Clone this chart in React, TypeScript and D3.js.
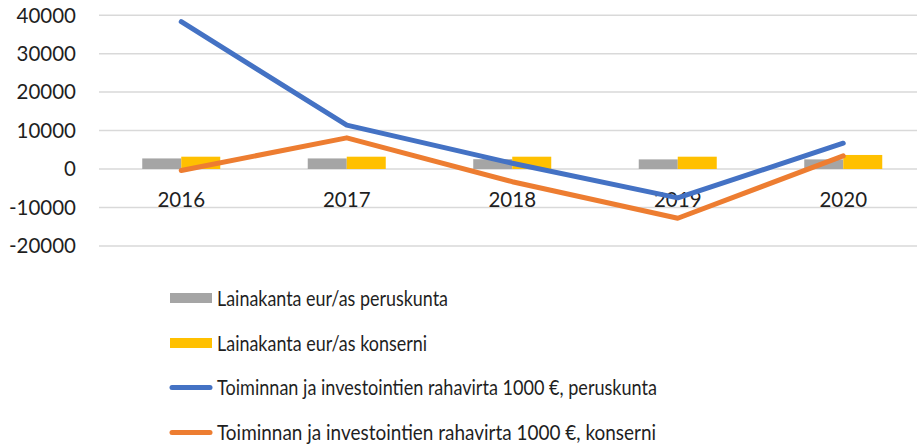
import React from "react";
import * as d3 from "d3";

const categories = ["2016", "2017", "2018", "2019", "2020"];
const lainaPeruskunta = [2750, 2750, 2550, 2500, 2500];
const lainaKonserni = [3200, 3200, 3200, 3200, 3650];
const rahaPeruskunta = [38300, 11400, 1500, -7500, 6700];
const rahaKonserni = [-400, 8100, -3300, -12800, 3400];
const yTicks = [40000, 30000, 20000, 10000, 0, -10000, -20000];
const legendLabels = [
  "Lainakanta eur/as peruskunta",
  "Lainakanta eur/as konserni",
  "Toiminnan ja investointien rahavirta 1000 €, peruskunta",
  "Toiminnan ja investointien rahavirta 1000 €, konserni",
];

const W = 917;
const H = 446;
const FONT = "Lato, 'Open Sans', sans-serif";
const TEXT = "#1f1f1f";
const GRID = "#D9D9D9";
const COLORS = ["#A5A5A5", "#FFC000", "#4472C4", "#ED7D31"];
const legendWidths = [231, 210, 440, 439];

export default function App() {
  const y = d3.scaleLinear().domain([-20000, 40000]).range([245.9, 15.2]);
  const x = d3.scaleBand<string>().domain(categories).range([98.5, 926]);
  const bw = x.bandwidth();
  const barKeys = ["p", "k"];
  const x1 = d3.scaleBand<string>().domain(barKeys).range([0, 78]);
  const cx = (c: string) => (x(c) as number) + bw / 2;
  const barSeries = [lainaPeruskunta, lainaKonserni];
  const lineSeries = [rahaPeruskunta, rahaKonserni];
  const line = d3
    .line<number>()
    .x((_, i) => cx(categories[i]))
    .y((d) => y(d));

  const legendY = [298, 343, 387.5, 432.5];

  return (
    <svg
      width={W}
      height={H}
      style={{ position: "absolute", left: 0, top: 0, background: "#fff" }}
      fontFamily={FONT}
    >
      <rect width={W} height={H} fill="#fff" />
      {yTicks.map((t) => (
        <g key={t}>
          <line x1={99} x2={W} y1={y(t)} y2={y(t)} stroke={GRID} strokeWidth={1.5} />
          <text
            x={76}
            y={y(t)}
            dy="0.36em"
            textAnchor="end"
            fontSize={20.5}
            fill={TEXT}
          >
            {t}
          </text>
        </g>
      ))}
      {barSeries.map((s, si) =>
        s.map((v, i) => {
          const c = categories[i];
          const x0 = cx(c) - 39 + (x1(barKeys[si]) as number);
          return (
            <rect
              key={si + "-" + i}
              x={x0}
              width={x1.bandwidth()}
              y={y(Math.max(0, v))}
              height={Math.abs(y(v) - y(0))}
              fill={COLORS[si]}
            />
          );
        })
      )}
      {categories.map((c) => (
        <text
          key={c}
          x={cx(c)}
          y={207}
          textAnchor="middle"
          fontSize={20.5}
          fill={TEXT}
        >
          {c}
        </text>
      ))}
      {lineSeries.map((s, si) => (
        <path
          key={si}
          d={line(s) || ""}
          fill="none"
          stroke={COLORS[2 + si]}
          strokeWidth={5}
          strokeLinecap="round"
          strokeLinejoin="round"
        />
      ))}
      {legendLabels.map((l, i) => (
        <g key={l}>
          {i < 2 ? (
            <rect x={170} y={legendY[i] - 5} width={42} height={10} fill={COLORS[i]} />
          ) : (
            <line
              x1={172}
              x2={210}
              y1={legendY[i]}
              y2={legendY[i]}
              stroke={COLORS[i]}
              strokeWidth={5}
              strokeLinecap="round"
            />
          )}
          <text
            x={217}
            y={legendY[i]}
            dy="0.37em"
            fontSize={21.5}
            fill={TEXT}
            textLength={legendWidths[i]}
            lengthAdjust="spacingAndGlyphs"
          >
            {l}
          </text>
        </g>
      ))}
    </svg>
  );
}
